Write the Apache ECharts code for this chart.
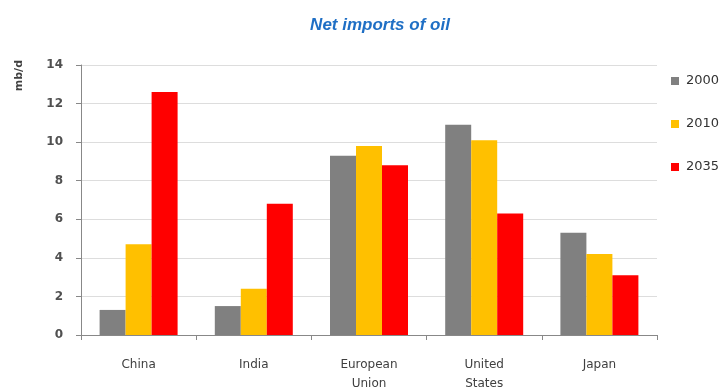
<!DOCTYPE html>
<html><head><meta charset="utf-8">
<script src="https://cdn.jsdelivr.net/npm/echarts@6/dist/echarts.min.js"></script>
<style>html,body{margin:0;padding:0;background:#fff}#c{width:724px;height:387px}</style>
</head><body><div id="c"></div>
<script>
const categories = ["China", "India", "European\nUnion", "United\nStates", "Japan"];
const years = ["2000", "2010", "2035"];
const v2000 = [1.3, 1.5, 9.3, 10.9, 5.3];
const v2010 = [4.7, 2.4, 9.8, 10.1, 4.2];
const v2035 = [12.6, 6.8, 8.8, 6.3, 3.1];
const colors = ["#808080", "#FFC000", "#FF0000"];
const seriesData = [v2000, v2010, v2035];

const chart = echarts.init(document.getElementById('c'));
chart.setOption({
  animation: false,
  title: {
    text: "Net imports of oil", left: 375, top: 12, textAlign: 'center',
    textStyle: {fontFamily: 'Liberation Sans', fontSize: 17, fontStyle: 'italic', fontWeight: 'bold', color: '#1F6FC5'}
  },
  legend: {
    orient: 'vertical', left: 666, top: 69, itemGap: 29, itemWidth: 8, itemHeight: 8,
    icon: 'rect',
    data: years,
    textStyle: {fontFamily: 'DejaVu Sans', fontSize: 13, color: '#333333', lineHeight: 14, padding: [0, 0, 0, 2]}
  },
  grid: {left: 81, right: 67, top: 65, bottom: 52, outerBoundsMode: 'none'},
  xAxis: {
    type: 'category', data: categories,
    axisLine: {lineStyle: {color: '#888', width: 1}},
    axisTick: {show: true, length: 5, lineStyle: {color: '#888'}},
    axisLabel: {fontFamily: 'DejaVu Sans', fontSize: 12, color: '#404040', margin: 20, lineHeight: 19}
  },
  yAxis: {
    type: 'value', min: 0, max: 14, interval: 2,
    name: 'mb/d', nameLocation: 'end', nameRotate: 90, nameGap: 5,
    nameTextStyle: {fontFamily: 'DejaVu Sans', fontSize: 11, color: '#404040', fontWeight: 'bold', align: 'right', verticalAlign: 'bottom', padding: [0, 0, 56, 0]},
    axisLine: {show: true, lineStyle: {color: '#888'}},
    axisTick: {show: true, length: 5, lineStyle: {color: '#888'}},
    splitLine: {lineStyle: {color: '#DDDDDD'}},
    axisLabel: {fontFamily: 'DejaVu Sans', fontSize: 12, fontWeight: 'bold', color: '#505050', margin: 18}
  },
  series: years.map((y, i) => ({
    name: y, type: 'bar', data: seriesData[i], barWidth: 26, barGap: '0%',
    itemStyle: {color: colors[i]}
  }))
});
</script></body></html>
